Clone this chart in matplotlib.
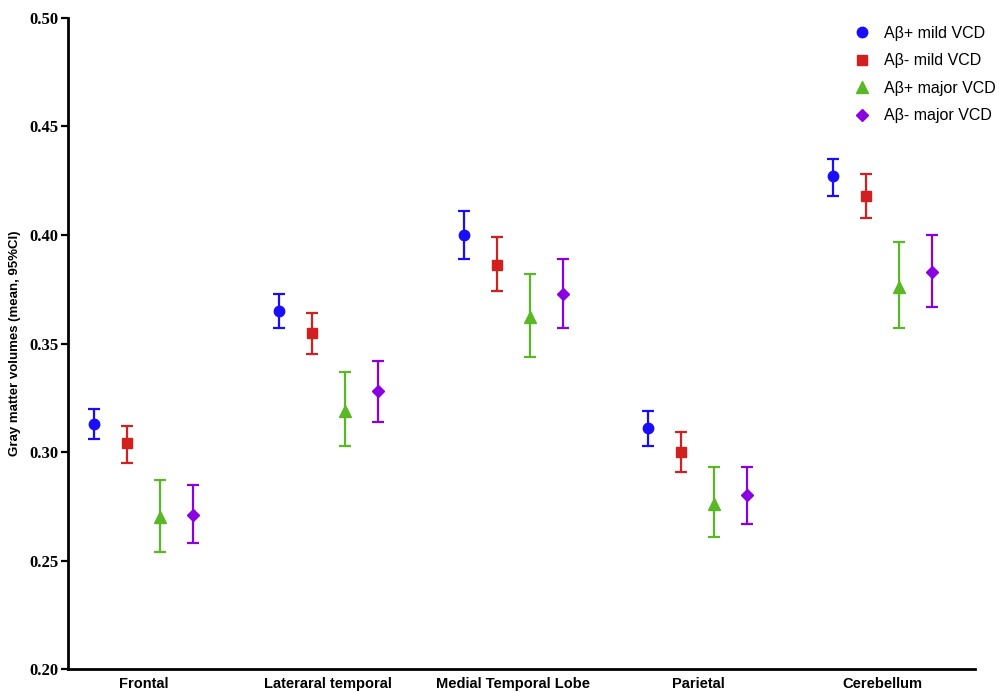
import matplotlib.pyplot as plt
from matplotlib.lines import Line2D
import numpy as np

regions = ["Frontal", "Lateraral temporal", "Medial Temporal Lobe", "Parietal", "Cerebellum"]
groups = ["Aβ+ mild VCD", "Aβ- mild VCD", "Aβ+ major VCD", "Aβ- major VCD"]

# mean and 95% CI bounds per group, one value per region
mild_pos_mean = [0.313, 0.365, 0.400, 0.311, 0.427]
mild_pos_low = [0.306, 0.357, 0.389, 0.303, 0.418]
mild_pos_high = [0.320, 0.373, 0.411, 0.319, 0.435]

mild_neg_mean = [0.304, 0.355, 0.386, 0.300, 0.418]
mild_neg_low = [0.295, 0.345, 0.374, 0.291, 0.408]
mild_neg_high = [0.312, 0.364, 0.399, 0.309, 0.428]

major_pos_mean = [0.270, 0.319, 0.362, 0.276, 0.376]
major_pos_low = [0.254, 0.303, 0.344, 0.261, 0.357]
major_pos_high = [0.287, 0.337, 0.382, 0.293, 0.397]

major_neg_mean = [0.271, 0.328, 0.373, 0.280, 0.383]
major_neg_low = [0.258, 0.314, 0.357, 0.267, 0.367]
major_neg_high = [0.285, 0.342, 0.389, 0.293, 0.400]

series = [
    (mild_pos_mean, mild_pos_low, mild_pos_high),
    (mild_neg_mean, mild_neg_low, mild_neg_high),
    (major_pos_mean, major_pos_low, major_pos_high),
    (major_neg_mean, major_neg_low, major_neg_high),
]
colors = ["#1a0dfa", "#d21f1f", "#5ab827", "#8a00e0"]
markers = ["o", "s", "^", "D"]
sizes = [7.5, 6.5, 8.5, 6.5]

fig = plt.figure(figsize=(9.99, 6.92), dpi=100)
ax = fig.add_axes([0.068, 0.0332, 0.908, 0.9408])

x = np.arange(len(regions))
step = 0.1786
for i, (mean, low, high) in enumerate(series):
    mean = np.array(mean)
    err = [mean - np.array(low), np.array(high) - mean]
    ax.errorbar(x + (i - 1.5) * step, mean, yerr=err, fmt=markers[i],
                color=colors[i], ms=sizes[i], capsize=4, capthick=1.6,
                elinewidth=1.6)

ax.set_xlim(-0.41, 4.5)
ax.set_ylim(0.20, 0.50)
yt = np.arange(0.20, 0.501, 0.05)
ax.set_yticks(yt)
ax.set_yticklabels([f"{v:.2f}" for v in yt],
                   fontfamily="Liberation Serif", fontweight="bold", fontsize=12)
ax.set_xticks(x)
ax.set_xticklabels(regions, fontfamily="Liberation Sans",
                   fontweight="bold", fontsize=10.5)
ax.tick_params(axis="x", length=0, pad=6)
ax.tick_params(axis="y", length=5, width=1.6, pad=2)
ax.set_ylabel("Gray matter volumes (mean, 95%CI)", fontfamily="Liberation Sans",
              fontweight="bold", fontsize=9.5, labelpad=6)

for side in ["top", "right"]:
    ax.spines[side].set_visible(False)
for side in ["left", "bottom"]:
    ax.spines[side].set_linewidth(2)

# legend shows the markers only, without the error bars
handles = [Line2D([], [], linestyle="none", marker=markers[i], color=colors[i],
                  ms=sizes[i]) for i in range(len(groups))]
ax.legend(handles, groups, loc="upper right", frameon=False, numpoints=1,
          handlelength=1.0, handletextpad=0.9, labelspacing=0.78,
          bbox_to_anchor=(1.039, 1.01),
          prop={"family": "Liberation Sans", "size": 11.5})

fig.savefig("out.png", dpi=100)
